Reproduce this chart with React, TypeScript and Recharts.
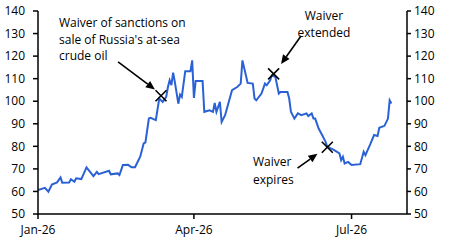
import {
  LineChart,
  Line,
  XAxis,
  YAxis,
  ReferenceDot,
  ReferenceLine,
} from "recharts";

// Daily price series (US$/bbl)
const dates = [
  "2026-01-01", "2026-01-05", "2026-01-07", "2026-01-09", "2026-01-12", "2026-01-14",
  "2026-01-15", "2026-01-19", "2026-01-20", "2026-01-22", "2026-01-23", "2026-01-26",
  "2026-01-29", "2026-02-02", "2026-02-04", "2026-02-05", "2026-02-11", "2026-02-12",
  "2026-02-16", "2026-02-17", "2026-02-19", "2026-02-22", "2026-02-24", "2026-02-26",
  "2026-03-01", "2026-03-03", "2026-03-04", "2026-03-06", "2026-03-07", "2026-03-10",
  "2026-03-12", "2026-03-14", "2026-03-16", "2026-03-17", "2026-03-18", "2026-03-19",
  "2026-03-20", "2026-03-21", "2026-03-23", "2026-03-24", "2026-03-25", "2026-03-27",
  "2026-03-30", "2026-03-31", "2026-04-01", "2026-04-02", "2026-04-06", "2026-04-07",
  "2026-04-10", "2026-04-12", "2026-04-13", "2026-04-14", "2026-04-16", "2026-04-17",
  "2026-04-19", "2026-04-23", "2026-04-26", "2026-04-28", "2026-04-29", "2026-05-01",
  "2026-05-02", "2026-05-05", "2026-05-06", "2026-05-07", "2026-05-10", "2026-05-11",
  "2026-05-12", "2026-05-13", "2026-05-15", "2026-05-16", "2026-05-18", "2026-05-20",
  "2026-05-21", "2026-05-25", "2026-05-26", "2026-05-27", "2026-05-29", "2026-05-31",
  "2026-06-02", "2026-06-05", "2026-06-06", "2026-06-08", "2026-06-09", "2026-06-10",
  "2026-06-12", "2026-06-14", "2026-06-16", "2026-06-17", "2026-06-19", "2026-06-21",
  "2026-06-24", "2026-06-25", "2026-06-26", "2026-06-27", "2026-06-29", "2026-07-01",
  "2026-07-06", "2026-07-08", "2026-07-09", "2026-07-12", "2026-07-14", "2026-07-16",
  "2026-07-17", "2026-07-20", "2026-07-22", "2026-07-23", "2026-07-24",
];

const prices = [
  60.6, 61.6, 59.9, 63.1, 64.0, 66.2,
  63.9, 64.0, 65.4, 64.3, 65.8, 65.5,
  70.7, 66.8, 68.7, 67.7, 69.2, 67.6,
  68.0, 67.3, 71.7, 71.8, 70.7, 70.7,
  75.4, 81.3, 81.7, 92.3, 92.6, 91.6,
  101.2, 99.7, 101.9, 106.3, 109.3, 107.1,
  112.7, 108.5, 98.9, 102.9, 101.9, 113.3,
  113.3, 118.1, 101.5, 109.0, 109.0, 95.3,
  96.0, 95.3, 99.2, 95.3, 99.7, 90.8,
  93.8, 104.9, 106.3, 107.8, 118.1, 111.5,
  108.1, 107.8, 101.2, 100.4, 103.4, 105.6,
  107.8, 107.1, 109.3, 111.5, 110.8, 103.4,
  104.1, 104.1, 101.2, 95.3, 92.3, 94.6,
  93.8, 94.6, 93.4, 94.6, 92.3, 92.3,
  87.9, 85.0, 82.0, 79.8, 79.1, 78.3,
  76.9, 73.9, 75.4, 72.4, 73.1, 71.7,
  72.1, 77.6, 76.1, 81.3, 85.0, 84.6,
  88.2, 89.1, 92.3, 100.4, 99.0,
];

const xTickDates = ["2026-01-01", "2026-04-01", "2026-07-01"];
const xTickLabels = ["Jan-26", "Apr-26", "Jul-26"];
const yTicks = [50, 60, 70, 80, 90, 100, 110, 120, 130, 140];

// Event markers [date, price]
const markerDates = ["2026-03-13", "2026-05-17", "2026-06-17"];
const markerPrices = [102.4, 112.1, 79.6];

// Arrows as [day, price] pairs: tail -> head
const arrowTails = [[46.2, 117.4], [151.8, 128.9], [149.8, 70.3]];
const arrowHeads = [[67.5, 105.2], [140.3, 116.5], [161.3, 76.7]];

const DAY = 24 * 3600 * 1000;
const START = Date.UTC(2026, 0, 1);
const toDay = (d: string) => {
  const [y, m, dd] = d.split("-").map(Number);
  return Math.round((Date.UTC(y, m - 1, dd) - START) / DAY);
};

const data = dates.map((d, i) => ({ day: toDay(d), price: prices[i] }));
const xTicks = xTickDates.map(toDay);

const FONT = "Open Sans";
const tickStyle = { fontSize: 12, fill: "#000", fontFamily: FONT };
const axisLine = { stroke: "#000", strokeWidth: 1.5 };

const Cross = (props: any) => {
  const { cx, cy } = props;
  const r = 5.5;
  return (
    <g stroke="#000" strokeWidth={1.6}>
      <line x1={cx - r} y1={cy - r} x2={cx + r} y2={cy + r} />
      <line x1={cx - r} y1={cy + r} x2={cx + r} y2={cy - r} />
    </g>
  );
};

const Arrow = (props: any) => {
  const { x1, y1, x2, y2 } = props;
  const len = Math.hypot(x2 - x1, y2 - y1);
  const ux = (x2 - x1) / len;
  const uy = (y2 - y1) / len;
  const hl = 9;
  const hw = 4;
  const bx = x2 - ux * hl;
  const by = y2 - uy * hl;
  const pts = `${x2},${y2} ${bx - uy * hw},${by + ux * hw} ${bx + uy * hw},${by - ux * hw}`;
  return (
    <g>
      <line x1={x1} y1={y1} x2={bx} y2={by} stroke="#000" strokeWidth={1.6} />
      <polygon points={pts} fill="#000" />
    </g>
  );
};

const textStyle = { fontSize: 12, fill: "#000", fontFamily: FONT };

export default function App() {
  return (
    <div style={{ position: "absolute", left: 0, top: 0, width: 450, height: 248 }}>
      <LineChart
        width={450}
        height={248}
        data={data}
        margin={{ top: 11, right: 0, bottom: 0, left: 0 }}
      >
        <XAxis
          dataKey="day"
          type="number"
          domain={[0, 213]}
          ticks={xTicks}
          tickFormatter={(v: number) => xTickLabels[xTicks.indexOf(v)] ?? ""}
          tick={tickStyle}
          axisLine={axisLine}
          tickLine={{ stroke: "#000", strokeWidth: 1.5 }}
          tickSize={5}
          tickMargin={6}
          height={34}
          allowDataOverflow
        />
        <YAxis
          yAxisId="left"
          domain={[50, 140]}
          ticks={yTicks}
          tick={tickStyle}
          axisLine={axisLine}
          tickLine={{ stroke: "#000", strokeWidth: 1.5 }}
          tickSize={5}
          tickMargin={8}
          width={38}
          interval={0}
        />
        <YAxis
          yAxisId="right"
          orientation="right"
          domain={[50, 140]}
          ticks={yTicks}
          tick={{ ...tickStyle, textAnchor: "start" }}
          axisLine={axisLine}
          tickLine={{ stroke: "#000", strokeWidth: 1.5 }}
          tickSize={4}
          tickMargin={3}
          width={43}
          interval={0}
        />
        <Line
          yAxisId="left"
          type="linear"
          dataKey="price"
          stroke="#2a62d6"
          strokeWidth={2}
          dot={false}
          isAnimationActive={false}
        />
        {/* same series bound to the right scale so that axis is drawn */}
        <Line
          yAxisId="right"
          type="linear"
          dataKey="price"
          stroke="none"
          dot={false}
          activeDot={false}
          isAnimationActive={false}
        />
        {markerDates.map((d, i) => (
          <ReferenceDot
            key={`m-${i}`}
            yAxisId="left"
            x={toDay(d)}
            y={markerPrices[i]}
            shape={Cross}
          />
        ))}
        {arrowTails.map((t, i) => (
          <ReferenceLine
            key={`a-${i}`}
            yAxisId="left"
            segment={[
              { x: t[0], y: t[1] },
              { x: arrowHeads[i][0], y: arrowHeads[i][1] },
            ]}
            shape={Arrow}
            ifOverflow="visible"
          />
        ))}
      </LineChart>
      <svg
        width={450}
        height={248}
        style={{ position: "absolute", left: 0, top: 0, pointerEvents: "none" }}
      >
        <text style={textStyle}>
          <tspan x={59} y={27}>Waiver of sanctions on</tspan>
          <tspan x={59} y={43.5}>sale of Russia's at-sea</tspan>
          <tspan x={59} y={60}>crude oil</tspan>
        </text>
        <text style={textStyle} textAnchor="middle">
          <tspan x={324} y={19.5}>Waiver</tspan>
          <tspan x={324} y={37}>extended</tspan>
        </text>
        <text style={textStyle}>
          <tspan x={253} y={166}>Waiver</tspan>
          <tspan x={253} y={183.5}>expires</tspan>
        </text>
      </svg>
    </div>
  );
}
